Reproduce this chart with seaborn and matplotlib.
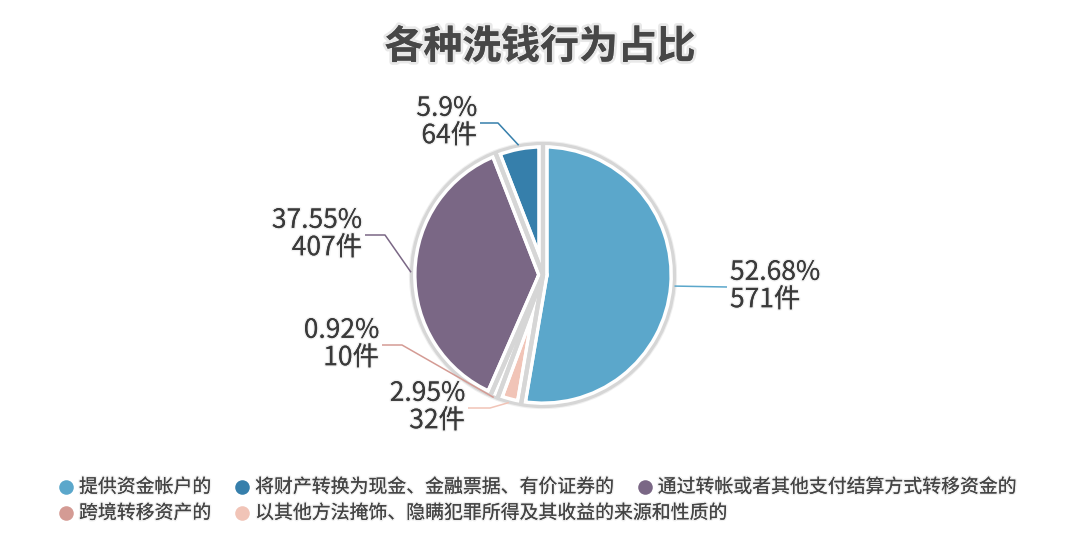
import matplotlib
matplotlib.use("Agg")
import matplotlib.pyplot as plt
import matplotlib.patheffects as pe
import numpy as np
import seaborn as sns

# ---- data ----
categories = [
    "提供资金帐户的",
    "将财产转换为现金、金融票据、有价证券的",
    "通过转帐或者其他支付结算方式转移资金的",
    "跨境转移资产的",
    "以其他方法掩饰、隐瞒犯罪所得及其收益的来源和性质的",
]
counts = [571, 64, 407, 10, 32]
unit = "件"
title = "各种洗钱行为占比"

# ---- style ----
sns.set_theme(style="white")
plt.rcParams["font.family"] = ["Noto Sans CJK SC", "DejaVu Sans"]
palette = sns.color_palette(["#5ba7cb", "#367fab", "#7a6785", "#d49b94", "#f1c4b7"])

W, H = 1080, 551
fig = plt.figure(figsize=(W / 100, H / 100), dpi=100)
fig.patch.set_facecolor("white")
ax = fig.add_axes([0, 0, 1, 1])


def Y(y):
    """top-down pixel row -> axis coordinate"""
    return H - y


center = (543, Y(275))
radius = 132
total = sum(counts)
start = 90 - 360 * counts[0] / total

glow = [pe.withStroke(linewidth=2, foreground=(0.45, 0.45, 0.45, 0.10))]
text_color = "#3a3a3a"

# fills
wedges, _ = ax.pie(counts, colors=palette, startangle=start, center=center,
                   radius=radius, wedgeprops=dict(linewidth=0))
# white separators
ax.pie(counts, colors=palette, startangle=start, center=center, radius=radius,
       wedgeprops=dict(facecolor="none", edgecolor="white", linewidth=8,
                       joinstyle="round"))
# soft gray shadow line inside the separators
ax.pie(counts, colors=palette, startangle=start, center=center, radius=radius,
       wedgeprops=dict(facecolor="none", edgecolor="#d6d6d6", linewidth=3,
                       joinstyle="round"))
# soften the shadow around the outer rim
ax.add_patch(plt.Circle(center, radius + 2.6, facecolor="none",
                        edgecolor="white", linewidth=2.2, alpha=0.6, zorder=3))

ax.set_xlim(0, W)
ax.set_ylim(0, H)
ax.set_aspect("equal")
ax.axis("off")

# ---- slice labels with leader lines ----
# elbow point and text anchor per slice (pixel rows from the top)
elbows = [(727, 287), (498, 123), (385, 235), (402, 345), (490, 408)]
ends = [(727, 287), (480, 123), (365, 235), (382, 345), (468, 408)]
sides = ["left", "right", "right", "right", "right"]
for w, c, v, el, en, ha in zip(wedges, palette, counts, elbows, ends, sides):
    mid = np.deg2rad((w.theta1 + w.theta2) / 2)
    x0 = center[0] + radius * np.cos(mid)
    y0 = center[1] + radius * np.sin(mid)
    ax.plot([x0, el[0], en[0]], [y0, Y(el[1]), Y(en[1])], color=c, lw=1.1,
            solid_capstyle="butt", zorder=4)
    pct = round(v / total * 100, 2)
    label = f"{pct:g}%\n{v}{unit}"
    tx = en[0] + 3 if ha == "left" else en[0] - 3
    ax.text(tx, Y(en[1]) + 1, label, ha=ha, va="center", fontsize=19,
            color=text_color, linespacing=1.02, path_effects=glow)

# ---- title ----
fig.text(0.5, 1 - 47 / H, title, ha="center", va="center", fontsize=28,
         fontweight="bold", color="#474747",
         path_effects=[pe.withStroke(linewidth=4, foreground=(0.4, 0.4, 0.4, 0.15))])

# ---- legend (flowing rows) ----
rows = [[0, 1, 2], [3, 4]]
row_y = [487, 513]
fig.canvas.draw()
renderer = fig.canvas.get_renderer()
for row, ry in zip(rows, row_y):
    x = 66
    for i in row:
        ax.scatter([x], [Y(ry)], s=110, color=palette[i], linewidths=0, zorder=5)
        t = ax.text(x + 13, Y(ry), categories[i], ha="left", va="center",
                    fontsize=13.6, color="#444444", path_effects=glow)
        bb = t.get_window_extent(renderer=renderer)
        x = bb.x1 + 31

fig.savefig("out.png", dpi=100, facecolor="white")
